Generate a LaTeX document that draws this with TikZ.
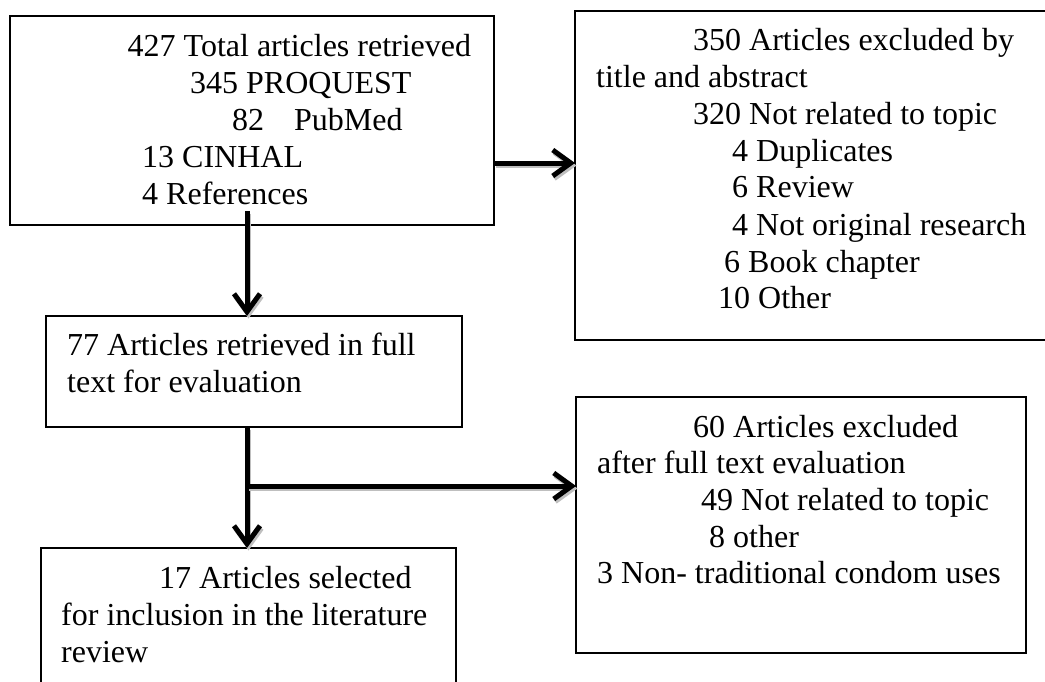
\documentclass[tikz,border=0pt]{standalone}
\usepackage{fontspec}
\setmainfont{Liberation Serif}
\usetikzlibrary{arrows.meta}
\begin{document}
\begin{tikzpicture}[x=1pt,y=-1pt,
  box/.style={draw=black, line width=1.4pt, rectangle, inner sep=0pt, outer sep=0pt, anchor=north west},
  txt/.style={anchor=base west, inner sep=0pt, font=\fontsize{32}{37}\selectfont},
  flowtip/.style={-{Straight Barb[length=18pt,width=26pt]}},
  flowshadow/.style={draw=black!25, line width=5pt, flowtip, transform canvas={shift={(1.5pt,-2.5pt)}}},
  flow/.style={line width=5pt, flowtip, preaction={flowshadow}}
]
\clip (0,0) rectangle (1045,681);
\fill[white] (0,0) rectangle (1045,681);

% boxes
\node[box, minimum width=484pt, minimum height=209pt] (b1) at (10,16) {};
\node[box, minimum width=500pt, minimum height=329pt] (b2) at (575,11) {};
\node[box, minimum width=416pt, minimum height=111pt] (b3) at (46,316) {};
\node[box, minimum width=415pt, minimum height=160pt] (b4) at (41,548) {};
\node[box, minimum width=450pt, minimum height=256pt] (b5) at (576,397) {};

% box 1 text
\node[txt] (t11) at (127.5,56) {427 Total articles retrieved};
\node[txt] (t12) at (190,93) {345 PROQUEST};
\node[txt] (t13) at (232,130) {82\hspace{30pt}PubMed};
\node[txt] (t14) at (142,167) {13 CINHAL};
\node[txt] (t15) at (142,204) {4 References};

% box 2 text
\node[txt] (t21) at (693,50) {350 Articles excluded by};
\node[txt] (t22) at (596,87) {title and abstract};
\node[txt] (t23) at (693,124) {320 Not related to topic};
\node[txt] (t24) at (732,161) {4 Duplicates};
\node[txt] (t25) at (732,197) {6 Review};
\node[txt] (t26) at (732,235) {4 Not original research};
\node[txt] (t27) at (724,272) {6 Book chapter};
\node[txt] (t28) at (718,308) {10 Other};

% box 3 text
\node[txt] (t31) at (67,355) {77 Articles retrieved in full};
\node[txt] (t32) at (67,392) {text for evaluation};

% box 4 text
\node[txt] (t41) at (159,588) {17 Articles selected};
\node[txt] (t42) at (61,625) {for inclusion in the literature};
\node[txt] (t43) at (61,662) {review};

% box 5 text
\node[txt] (t51) at (693,437) {60 Articles excluded};
\node[txt] (t52) at (597,473) {after full text evaluation};
\node[txt] (t53) at (701,510) {49 Not related to topic};
\node[txt] (t54) at (709,547) {8 other};
\node[txt] (t55) at (597,583) {3 Non- traditional condom uses};

% connectors
\coordinate (s1) at (247,211);
\coordinate (h1) at (b1.east |- 0,163);
\coordinate (j) at (247,486);
\draw[flow] (s1) -- (s1 |- b3.north);
\draw[flow] (h1) -- (h1 -| b2.west);
\draw[flow] (b3.south -| s1) -- (b4.north -| s1);
\draw[flow] (j) -- (j -| b5.west);
\end{tikzpicture}
\end{document}
